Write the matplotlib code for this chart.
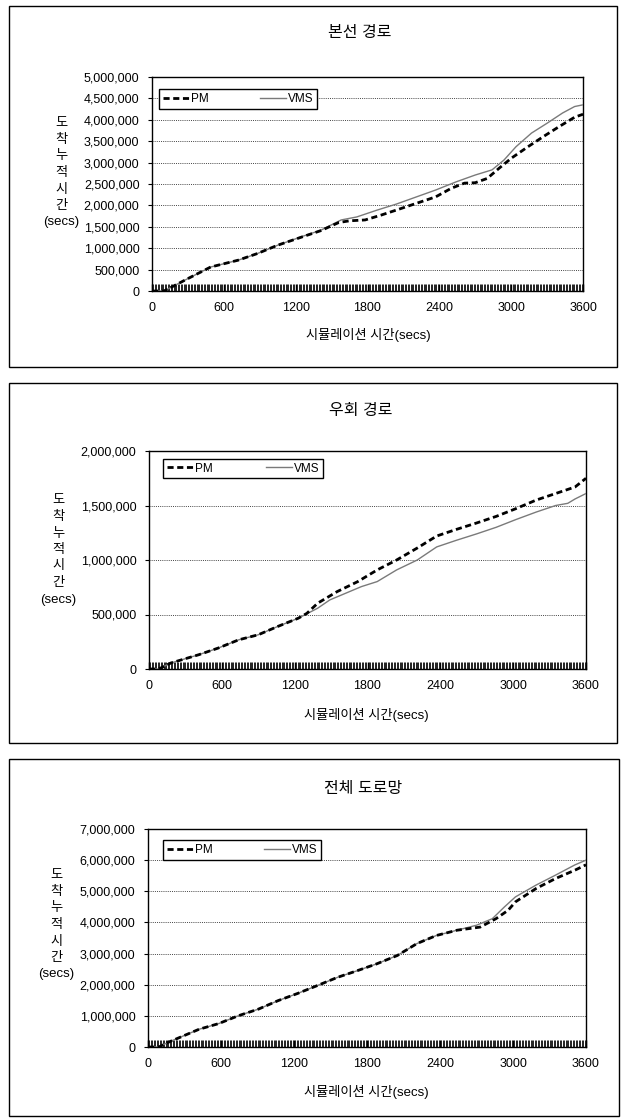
import matplotlib
matplotlib.use("Agg")
import matplotlib.pyplot as plt
from matplotlib.ticker import MultipleLocator, FuncFormatter
from matplotlib.patches import Rectangle
from matplotlib.lines import Line2D

plt.rcParams['font.family'] = ['Liberation Sans', 'Noto Sans CJK KR', 'DejaVu Sans']

# ---------------- data ----------------
titles = ["본선 경로", "우회 경로", "전체 도로망"]
series_names = ["PM", "VMS"]
x_label = "시뮬레이션 시간(secs)"
y_label = "도\n착\n누\n적\n시\n간\n(secs)"
x_ticks = [0, 600, 1200, 1800, 2400, 3000, 3600]

main_t_vms = [0, 100, 190, 300, 490, 720, 880, 1050, 1250, 1410, 1580, 1710, 1880, 2040,
              2210, 2370, 2540, 2700, 2840, 2940, 3040, 3170, 3300, 3430, 3530, 3600]
main_vms = [0, 0, 130000, 290000, 560000, 720000, 875000, 1070000, 1270000, 1420000, 1660000,
            1730000, 1890000, 2030000, 2200000, 2360000, 2550000, 2710000, 2830000, 3060000,
            3370000, 3690000, 3920000, 4160000, 4310000, 4350000]
main_t_pm = [0, 100, 190, 300, 490, 720, 880, 1050, 1250, 1410, 1560, 1650, 1780, 1910, 2040,
             2210, 2370, 2500, 2610, 2700, 2800, 2900, 3000, 3140, 3270, 3400, 3530, 3600]
main_pm = [0, 0, 130000, 290000, 560000, 720000, 875000, 1070000, 1260000, 1410000, 1600000,
           1640000, 1660000, 1770000, 1890000, 2050000, 2200000, 2400000, 2520000, 2530000,
           2630000, 2870000, 3100000, 3370000, 3610000, 3840000, 4060000, 4130000]

detour_t_vms = [0, 80, 180, 410, 570, 740, 900, 1060, 1230, 1390, 1490, 1620, 1750, 1880, 2040,
                2210, 2370, 2530, 2700, 2860, 3020, 3190, 3350, 3450, 3510, 3600]
detour_vms = [0, 0, 55000, 131000, 192000, 268000, 314000, 390000, 466000, 558000, 634000,
              695000, 756000, 802000, 909000, 1000000, 1120000, 1180000, 1240000, 1300000,
              1370000, 1440000, 1500000, 1520000, 1560000, 1610000]
detour_t_pm = [0, 80, 180, 410, 570, 740, 900, 1060, 1230, 1300, 1390, 1550, 1720, 1880, 2040,
               2210, 2370, 2530, 2700, 2860, 3020, 3190, 3350, 3510, 3600]
detour_pm = [0, 0, 55000, 131000, 192000, 268000, 314000, 390000, 466000, 510000, 604000,
             710000, 802000, 909000, 1000000, 1110000, 1220000, 1280000, 1340000, 1400000,
             1470000, 1550000, 1610000, 1670000, 1750000]

total_t_vms = [0, 90, 160, 420, 580, 740, 910, 1070, 1230, 1390, 1560, 1720, 1880, 2050, 2210,
               2370, 2540, 2700, 2830, 2930, 3020, 3190, 3350, 3510, 3600]
total_vms = [0, 0, 140000, 570000, 750000, 1000000, 1220000, 1490000, 1720000, 1970000,
             2240000, 2450000, 2670000, 2940000, 3320000, 3580000, 3750000, 3910000, 4120000,
             4500000, 4820000, 5200000, 5520000, 5850000, 6000000]
total_t_pm = [0, 90, 160, 420, 580, 740, 910, 1070, 1230, 1390, 1560, 1720, 1880, 2050, 2210,
              2370, 2540, 2730, 2860, 2960, 3020, 3190, 3350, 3510, 3600]
total_pm = [0, 0, 140000, 570000, 750000, 1000000, 1220000, 1490000, 1720000, 1970000,
            2240000, 2450000, 2670000, 2940000, 3320000, 3580000, 3750000, 3850000, 4120000,
            4390000, 4660000, 5090000, 5410000, 5680000, 5850000]

y_max = [5000000, 2000000, 7000000]
y_step = [500000, 500000, 1000000]

# ---------------- layout (pixels) ----------------
W, H = 622, 1118
fig = plt.figure(figsize=(W / 100, H / 100), dpi=100)
fig.patch.set_facecolor('white')

def fx(x):
    return x / W

def fy(y):
    return 1 - y / H

panels = [
    dict(box=(9, 6, 617, 367), ax=(152, 77, 583, 291), title=(360, 33), xl=(368, 335),
         yl=(61, 173), leg=(159, 89, 317, 109)),
    dict(box=(9, 383, 617, 743), ax=(149, 451, 586, 669), title=(361, 410), xl=(366, 715),
         yl=(58, 550), leg=(163, 458, 323, 479)),
    dict(box=(9, 759, 619, 1116), ax=(148, 829, 586, 1047), title=(363, 789), xl=(366, 1092),
         yl=(56, 925), leg=(163, 840, 321, 860)),
]
data = [
    (main_t_pm, main_pm, main_t_vms, main_vms),
    (detour_t_pm, detour_pm, detour_t_vms, detour_vms),
    (total_t_pm, total_pm, total_t_vms, total_vms),
]

for i, p in enumerate(panels):
    bx0, by0, bx1, by1 = p['box']
    fig.add_artist(Rectangle((fx(bx0), fy(by1)), (bx1 - bx0) / W, (by1 - by0) / H,
                             transform=fig.transFigure, fill=False, ec='black', lw=1.0))
    l, t, r, b = p['ax']
    ax = fig.add_axes([fx(l), fy(b), (r - l) / W, (b - t) / H])
    tp, vp, tv, vv = data[i]
    ax.plot(tv, vv, color='#7a7a7a', lw=1.0, label=series_names[1], zorder=3)
    ax.plot(tp, vp, color='black', lw=2.0, linestyle=(0, (2.2, 1.3)), label=series_names[0], zorder=4)
    ax.set_xlim(0, 3600)
    ax.set_ylim(0, y_max[i])
    ax.set_xticks(x_ticks)
    ax.yaxis.set_major_locator(MultipleLocator(y_step[i]))
    ax.yaxis.set_major_formatter(FuncFormatter(lambda v, pos: f"{int(v):,}"))
    ax.xaxis.set_minor_locator(MultipleLocator(12))
    ax.tick_params(axis='x', which='major', direction='in', length=5, width=1.0, pad=8, labelsize=9)
    ax.tick_params(axis='x', which='minor', direction='in', length=5, width=0.7, color='#222')
    ax.tick_params(axis='y', which='major', direction='out', length=3, width=0.8, pad=6, labelsize=9)
    ax.yaxis.grid(True, linestyle=(0, (1, 1.2)), color='#444', lw=0.7)
    ax.set_axisbelow(True)
    for s in ax.spines.values():
        s.set_color('black')
        s.set_linewidth(1.0)

    fig.text(fx(p['title'][0]), fy(p['title'][1]), titles[i], ha='center', va='center', fontsize=11.5)
    fig.text(fx(p['xl'][0]), fy(p['xl'][1]), x_label, ha='center', va='center', fontsize=9.5)
    fig.text(fx(p['yl'][0]), fy(p['yl'][1]), y_label, ha='center', va='center', fontsize=9.5,
             multialignment='center', linespacing=1.5)

    lx0, ly0, lx1, ly1 = p['leg']
    handles = [Line2D([], [], color='black', lw=2.0, linestyle=(0, (2.2, 1.3))),
               Line2D([], [], color='#7a7a7a', lw=1.0)]
    leg = ax.legend(handles, series_names, ncol=2, loc='center',
                    bbox_to_anchor=(fx(lx0), fy(ly1), (lx1 - lx0) / W, (ly1 - ly0) / H),
                    bbox_transform=fig.transFigure, mode='expand', borderaxespad=0,
                    fancybox=False, framealpha=1, edgecolor='black', fontsize=8.5,
                    handlelength=2.2, handletextpad=0.2, columnspacing=2.0,
                    borderpad=0.3)
    leg.get_frame().set_linewidth(1.0)

fig.savefig('out.png', dpi=100, facecolor='white')
